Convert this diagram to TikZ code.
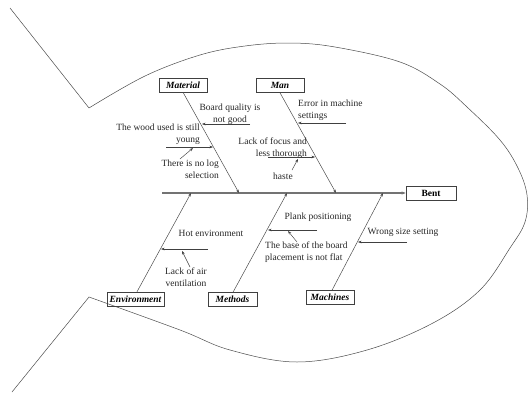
\documentclass[tikz,border=0pt]{standalone}
\usepackage{fontspec}
\setmainfont{Liberation Serif}
\usetikzlibrary{arrows.meta}
\begin{document}
\begin{tikzpicture}[x=1pt,y=-1pt,
  every node/.style={font=\fontsize{9.5}{11.5}\selectfont, inner sep=0pt},
  catbox/.style={draw=black!75, line width=0.5pt, minimum height=14pt, font=\fontsize{9.5}{11.5}\selectfont\bfseries\itshape},
  headbox/.style={draw=black!75, line width=0.5pt, minimum width=50pt, minimum height=14pt, font=\fontsize{9.5}{11.5}\selectfont\bfseries},
  bone/.style={draw=black!70, line width=0.5pt, -{Stealth[length=3.5pt,width=2.6pt]}},
  spine/.style={draw=black!55, line width=1.1pt, -{Stealth[length=4pt,width=3pt]}},
  cause/.style={draw=black!75, line width=0.45pt, -{Stealth[length=3.5pt,width=2.6pt]}},
  outline/.style={draw=black!70, line width=0.5pt},
  lbl/.style={text=black!85}]
\useasboundingbox (0,0) rectangle (528,394);
% fish outline
\draw[outline] (10,8) -- (89,108)
  plot[smooth, tension=0.6] coordinates {(89,108) (145,76) (200,55) (245,46) (290,43) (335,47) (400,62) (440,84) (467,107) (500,140) (518,168) (527,195) (525,222) (510,248) (480,290) (433,323) (367,350) (297,362) (230,350) (180,330) (89,297)}
  -- (12,392);
% head and categories
\node[headbox] (bent) at (431,193) {Bent};
\node[catbox, minimum width=48pt] (mat) at (183,85) {Material};
\node[catbox, minimum width=48pt] (man) at (280,85.5) {Man};
\node[catbox, minimum width=57pt] (env) at (135.5,299) {Environment};
\node[catbox, minimum width=49pt] (met) at (232.5,299.5) {Methods};
\node[catbox, minimum width=48pt] (mac) at (330,297.5) {Machines};
% spine
\coordinate (tail) at (162,193);
\draw[spine] (tail) -- (bent.west);
% bone joints
\coordinate (jmat) at (239,193);
\coordinate (jman) at (336,193);
\coordinate (jenv) at (191,193);
\coordinate (jmet) at (287,193);
\coordinate (jmac) at (383,193);
\draw[bone] (mat.south -| 183,0) -- (jmat);
\draw[bone] (man.south -| 280,0) -- (jman);
\draw[bone] (env.north -| 137,0) -- (jenv);
\draw[bone] (met.north -| 233,0) -- (jmet);
\draw[bone] (mac.north -| 332,0) -- (jmac);
% Material causes
\node[lbl, align=center] (t1) at (230,114) {Board quality is\\not good};
\coordinate (a1s) at (250,124); \coordinate (a1e) at (202,124);
\draw[cause] (a1s) -- (a1e);
\node[lbl, align=right, anchor=east] (t2) at (200,134) {The wood used is still\\young};
\coordinate (a2s) at (166,147); \coordinate (a2e) at (213,147);
\draw[cause] (a2s) -- (a2e);
\node[lbl, align=right, anchor=east] (t3) at (219,169) {There is no log\\selection};
\coordinate (a3s) at (180,159); \coordinate (a3e) at (193,148);
\draw[cause] (a3s) -- (a3e);
% Man causes
\node[lbl, align=left, anchor=west] (t4) at (298,110) {Error in machine\\settings};
\coordinate (a4s) at (346,123); \coordinate (a4e) at (298,123);
\draw[cause] (a4s) -- (a4e);
\node[lbl, align=right, anchor=east] (t5) at (307,148) {Lack of focus and\\less thorough};
\coordinate (a5s) at (268,157); \coordinate (a5e) at (315,157);
\draw[cause] (a5s) -- (a5e);
\node[lbl] (t6) at (283,176) {haste};
\coordinate (a6s) at (292,170); \coordinate (a6e) at (298,159);
\draw[cause] (a6s) -- (a6e);
% Environment causes
\node[lbl] (t7) at (211,233) {Hot environment};
\coordinate (a7s) at (208,249); \coordinate (a7e) at (161,249);
\draw[cause] (a7s) -- (a7e);
\node[lbl, align=center] (t8) at (186,277) {Lack of air\\ventilation};
\coordinate (a8s) at (190,267); \coordinate (a8e) at (182,251);
\draw[cause] (a8s) -- (a8e);
% Methods causes
\node[lbl] (t9) at (318,217) {Plank positioning};
\coordinate (a9s) at (317,230); \coordinate (a9e) at (268,230);
\draw[cause] (a9s) -- (a9e);
\node[lbl, align=left, anchor=west] (t10) at (265,252) {The base of the board\\placement is not flat};
\coordinate (a10s) at (297,242); \coordinate (a10e) at (288,231);
\draw[cause] (a10s) -- (a10e);
% Machines causes
\node[lbl] (t11) at (403,232) {Wrong size setting};
\coordinate (a11s) at (407,242); \coordinate (a11e) at (358,242);
\draw[cause] (a11s) -- (a11e);
\end{tikzpicture}
\end{document}
